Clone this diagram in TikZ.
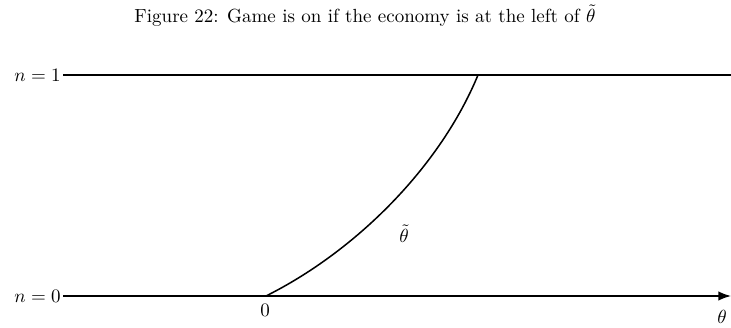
\documentclass[tikz,border=0pt]{standalone}
\usepackage{amsmath, amssymb}
\usepackage{tikz}
\usetikzlibrary{arrows.meta, positioning, calc}

\begin{document}
\begin{tikzpicture}[
    x=0.526pt, y=0.526pt,
    >=Latex,
    level/.style={thick},
    curve/.style={thick},
    lbl/.style={inner sep=1pt},
]
% bounding box (reference proportions)
\useasboundingbox (0,0) rectangle (731,327);

% Title
\node (title) at (365,311) {Figure 22: Game is on if the economy is at the left of $\tilde{\theta}$};

% Levels
\coordinate (topL) at (63,252);
\coordinate (topR) at (731,252);
\coordinate (botL) at (63,31);
\coordinate (botR) at (731,31);
\node[lbl, left] (n1) at (topL) {$n=1$};
\node[lbl, left] (n0) at (botL) {$n=0$};
\draw[level] (topL) -- (topR);
\draw[level, ->] (botL) -- (botR);

% Threshold curve
\coordinate (start) at (266,31);
\coordinate (end) at (478,252);
\draw[curve] (start) .. controls (356,76) and (440,160) .. (end);
\node[lbl] (thlbl) at (404,93) {$\tilde{\theta}$};
\node[lbl] (zero) at (265,17) {$0$};
\node[lbl] (theta) at (722,10) {$\theta$};
\end{tikzpicture}
\end{document}
